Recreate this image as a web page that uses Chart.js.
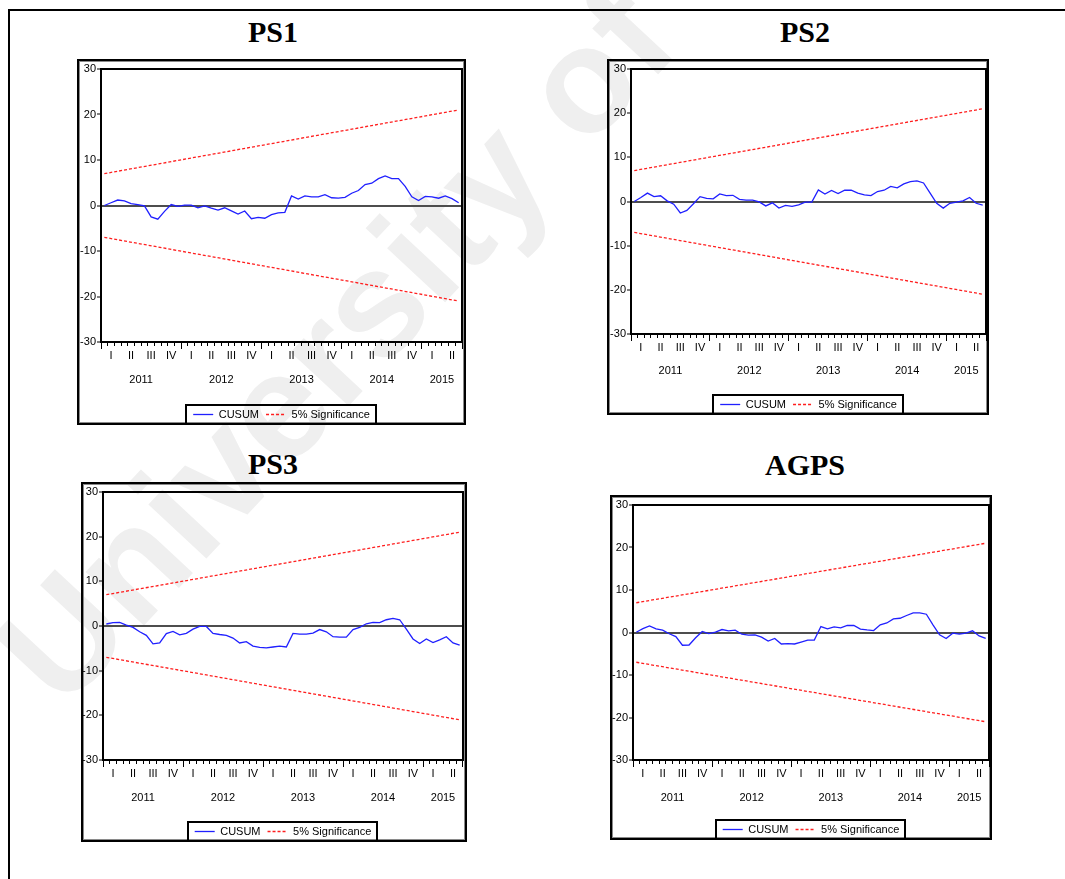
<!DOCTYPE html>
<html>
<head>
<meta charset="utf-8">
<title>CUSUM tests</title>
<script src="https://cdn.jsdelivr.net/npm/chart.js@4.4.0/dist/chart.umd.min.js"></script>
<style>
  body { margin: 0; background: #fff; width: 1065px; height: 879px; position: relative; overflow: hidden; }
  .frame-top { position: absolute; left: 8px; top: 9px; width: 1057px; height: 2px; background: #000; }
  .frame-left { position: absolute; left: 8px; top: 9px; width: 2px; height: 870px; background: #000; }
  .watermark {
    position: absolute; left: 335px; top: 345px; z-index: 0;
    transform: translate(-50%, -50%) rotate(-47deg);
    font: bold 150px 'Liberation Sans', Arial, sans-serif; color: #efefef; white-space: nowrap;
  }
  .title {
    position: absolute; width: 200px; text-align: center; z-index: 2;
    font: bold 30px 'Liberation Serif', 'Times New Roman', serif; line-height: 30px; color: #000;
  }
  .panel {
    position: absolute; z-index: 1; box-sizing: border-box; overflow: hidden;
    border: 2px solid #000; box-shadow: inset 0 0 0 1px #8a8a8a;
  }
  .panel canvas { display: block; }
  #p1 { left: 77px; top: 59px; width: 389px; height: 366px; }
  #p2 { left: 607px; top: 59px; width: 382px; height: 356px; }
  #p3 { left: 81px; top: 482px; width: 386px; height: 360px; }
  #p4 { left: 610px; top: 495px; width: 382px; height: 345px; }
</style>
</head>
<body>
<div class="watermark">University of</div>
<div class="frame-top"></div>
<div class="frame-left"></div>

<div class="title" style="left:173px;top:17px">PS1</div>
<div class="title" style="left:705px;top:17px">PS2</div>
<div class="title" style="left:173px;top:449px">PS3</div>
<div class="title" style="left:705px;top:450px">AGPS</div>

<div class="panel" id="p1"><canvas id="c1" width="385" height="369"></canvas></div>
<div class="panel" id="p2"><canvas id="c2" width="378" height="359"></canvas></div>
<div class="panel" id="p3"><canvas id="c3" width="382" height="363"></canvas></div>
<div class="panel" id="p4"><canvas id="c4" width="378" height="348"></canvas></div>

<script>
// sample: monthly, 2011M01 - 2015M06
const years = ['2011', '2012', '2013', '2014', '2015'];
const quarterNames = ['I', 'II', 'III', 'IV'];
const lastMonth2015 = 6;

const months = [];
years.forEach(y => {
    const end = y === '2015' ? lastMonth2015 : 12;
    for (let m = 1; m <= end; m++) months.push(y + 'M' + String(m).padStart(2, '0'));
});

// CUSUM values
const ps1Cusum = [0, 0.6, 1.2, 1.0, 0.4, 0.2, -0.1, -2.5, -3.0, -1.3,
    0.2, -0.2, 0.1, 0.1, -0.5, -0.1, -0.6, -1.0, -0.5, -1.2,
    -1.9, -1.2, -2.9, -2.6, -2.8, -2.0, -1.6, -1.5, 2.1, 1.4,
    2.1, 1.9, 1.9, 2.4, 1.7, 1.6, 1.8, 2.7, 3.3, 4.6,
    4.9, 5.9, 6.5, 5.9, 5.9, 4.2, 1.9, 1.1, 2.0, 1.9,
    1.6, 2.1, 1.5, 0.6];
const ps2Cusum = [0, 0.9, 1.9, 1.1, 1.3, 0.15, -0.6, -2.6, -2.0, -0.5,
    1.1, 0.7, 0.6, 1.7, 1.35, 1.4, 0.5, 0.3, 0.3, -0.1,
    -1.0, -0.3, -1.5, -0.9, -1.1, -0.75, -0.15, -0.15, 2.6, 1.7,
    2.5, 1.8, 2.55, 2.55, 1.9, 1.5, 1.35, 2.25, 2.55, 3.4,
    3.1, 4.0, 4.5, 4.65, 4.2, 1.9, -0.4, -1.5, -0.4, -0.15,
    0.15, 0.9, -0.4, -0.8];
const ps3Cusum = [0.45, 0.75, 0.8, 0.2, -0.3, -1.3, -2.1, -4.0, -3.8, -1.7,
    -1.2, -2.0, -1.65, -0.7, -0.1, -0.1, -1.65, -1.9, -2.1, -2.7,
    -3.8, -3.5, -4.5, -4.8, -4.9, -4.7, -4.5, -4.7, -1.65, -1.8,
    -1.8, -1.6, -0.8, -1.3, -2.4, -2.5, -2.5, -0.8, -0.3, 0.5,
    0.8, 0.75, 1.4, 1.7, 1.4, -0.7, -2.9, -3.9, -2.9, -3.7,
    -3.1, -2.4, -3.8, -4.3];
const agpsCusum = [0.05, 0.9, 1.55, 0.85, 0.55, -0.3, -0.95, -3.0, -2.95, -1.25,
    0.25, -0.25, 0.1, 0.7, 0.4, 0.55, -0.4, -0.6, -0.55, -1.1,
    -2.0, -1.4, -2.7, -2.6, -2.7, -2.25, -1.8, -1.8, 1.4, 0.85,
    1.3, 1.1, 1.65, 1.65, 0.8, 0.6, 0.45, 1.8, 2.25, 3.2,
    3.35, 4.0, 4.6, 4.6, 4.3, 1.8, -0.55, -1.4, -0.15, -0.4,
    -0.15, 0.4, -0.8, -1.4];

// 5% significance bands: value at first and last observation (straight lines)
const sigUpper = [7.0, 21.0];
const sigLower = [-7.0, -21.0];

const yTicks = [-30, -20, -10, 0, 10, 20, 30];

Chart.defaults.font.family = "'Liberation Sans', Arial, sans-serif";
Chart.defaults.color = '#000';

// centre of each year's months, used for the year labels
const yearCenters = years.map(y => {
    const idx = months.map((m, i) => m.startsWith(y) ? i : -1).filter(i => i >= 0);
    return (idx[0] + idx[idx.length - 1] + 1) / 2;
});

const endPoints = pair => months.map((_, i) => i === 0 ? pair[0] : (i === months.length - 1 ? pair[1] : null));

// box around the plot area
const plotFrame = {
    id: 'plotFrame',
    afterDraw(chart) {
        const a = chart.chartArea;
        const ctx = chart.ctx;
        ctx.save();
        ctx.strokeStyle = '#000';
        ctx.lineWidth = 2;
        ctx.strokeRect(Math.round(a.left), Math.round(a.top), Math.round(a.right - a.left), Math.round(a.bottom - a.top));
        ctx.restore();
    }
};

// box around the legend items
const legendFrame = {
    id: 'legendFrame',
    afterDraw(chart) {
        const boxes = chart.legend && chart.legend.legendHitBoxes;
        if (!boxes || !boxes.length) return;
        const first = boxes[0];
        const last = boxes[boxes.length - 1];
        const l = Math.round(first.left - 7);
        const r = Math.round(last.left + last.width + 6);
        const t = Math.round(first.top - 4);
        const ctx = chart.ctx;
        ctx.save();
        ctx.strokeStyle = '#000';
        ctx.lineWidth = 2;
        ctx.strokeRect(l, t, r - l, 20);
        ctx.restore();
    }
};

// legend lines keep the dataset's dash pattern
const legendLabels = chart => Chart.defaults.plugins.legend.labels.generateLabels(chart).map(item => {
    const ds = chart.data.datasets[item.datasetIndex];
    return Object.assign(item, {
        strokeStyle: ds.borderColor,
        lineWidth: ds.borderWidth,
        lineDash: ds.borderDash || []
    });
});

function makeChart(canvasId, cusum, yWidth, padRight, x2Height, yearPad) {
    const ctx = document.getElementById(canvasId).getContext('2d');
    return new Chart(ctx, {
        type: 'line',
        data: {
            labels: months,
            datasets: [{
                label: 'CUSUM',
                data: cusum,
                borderColor: '#2020ff',
                borderWidth: 1.3,
                pointRadius: 0,
                tension: 0
            }, {
                label: '5% Significance',
                data: endPoints(sigUpper),
                borderColor: '#ff1f1f',
                borderWidth: 1.3,
                borderDash: [3, 2],
                pointRadius: 0,
                spanGaps: true
            }, {
                label: '5% Significance',
                data: endPoints(sigLower),
                borderColor: '#ff1f1f',
                borderWidth: 1.3,
                borderDash: [3, 2],
                pointRadius: 0,
                spanGaps: true
            }]
        },
        options: {
            responsive: false,
            animation: false,
            devicePixelRatio: 1,
            layout: { padding: { top: 8, right: padRight, left: 0, bottom: 0 } },
            plugins: {
                title: { display: false },
                tooltip: { enabled: false },
                legend: {
                    position: 'bottom',
                    fullSize: false,
                    labels: {
                        usePointStyle: true,
                        pointStyle: 'line',
                        pointStyleWidth: 20,
                        padding: 7,
                        color: '#000',
                        font: { size: 11 },
                        generateLabels: legendLabels,
                        filter: item => item.datasetIndex < 2
                    }
                }
            },
            scales: {
                x: {
                    type: 'category',
                    offset: true,
                    weight: 0,
                    grid: {
                        display: true,
                        offset: true,
                        drawOnChartArea: false,
                        drawTicks: true,
                        tickLength: 7,
                        tickColor: '#000',
                        tickWidth: 1,
                        // long marks at year boundaries, short ones for months
                        tickBorderDash: c => (c.index === undefined || c.index % 12 === 0) ? [] : [3, 20]
                    },
                    border: { display: true, color: '#000', width: 2 },
                    ticks: {
                        autoSkip: false,
                        maxRotation: 0,
                        minRotation: 0,
                        padding: 0,
                        color: '#000',
                        font: { size: 11 },
                        callback: (v, i) => i % 3 === 1 ? quarterNames[Math.floor(i / 3) % 4] : ''
                    },
                    afterFit: s => { s.height = 24; }
                },
                x2: {
                    type: 'linear',
                    position: 'bottom',
                    weight: 1,
                    min: 0,
                    max: months.length,
                    grid: { display: false, drawTicks: false },
                    border: { display: false },
                    ticks: {
                        autoSkip: false,
                        maxRotation: 0,
                        padding: yearPad,
                        color: '#000',
                        font: { size: 11 },
                        callback: (v, i) => years[i]
                    },
                    afterBuildTicks: s => { s.ticks = yearCenters.map(v => ({ value: v })); },
                    afterFit: s => { s.height = x2Height; }
                },
                y: {
                    min: -30,
                    max: 30,
                    afterBuildTicks: s => { s.ticks = yTicks.map(v => ({ value: v })); },
                    grid: {
                        color: c => c.tick && c.tick.value === 0 ? '#4d4d4d' : 'rgba(0,0,0,0)',
                        lineWidth: c => c.tick && c.tick.value === 0 ? 2 : 0,
                        tickColor: '#000',
                        tickWidth: 1,
                        tickLength: 4
                    },
                    border: { display: true, color: '#000', width: 2 },
                    ticks: { padding: 1, color: '#000', font: { size: 11 } },
                    afterFit: s => { s.width = yWidth; }
                }
            }
        },
        plugins: [plotFrame, legendFrame]
    });
}

makeChart('c1', ps1Cusum, 22, 2, 36, 7);
makeChart('c2', ps2Cusum, 22, 1, 34, 6);
makeChart('c3', ps3Cusum, 20, 2, 35, 7);
makeChart('c4', agpsCusum, 21, 1, 33, 7);
</script>
</body>
</html>
